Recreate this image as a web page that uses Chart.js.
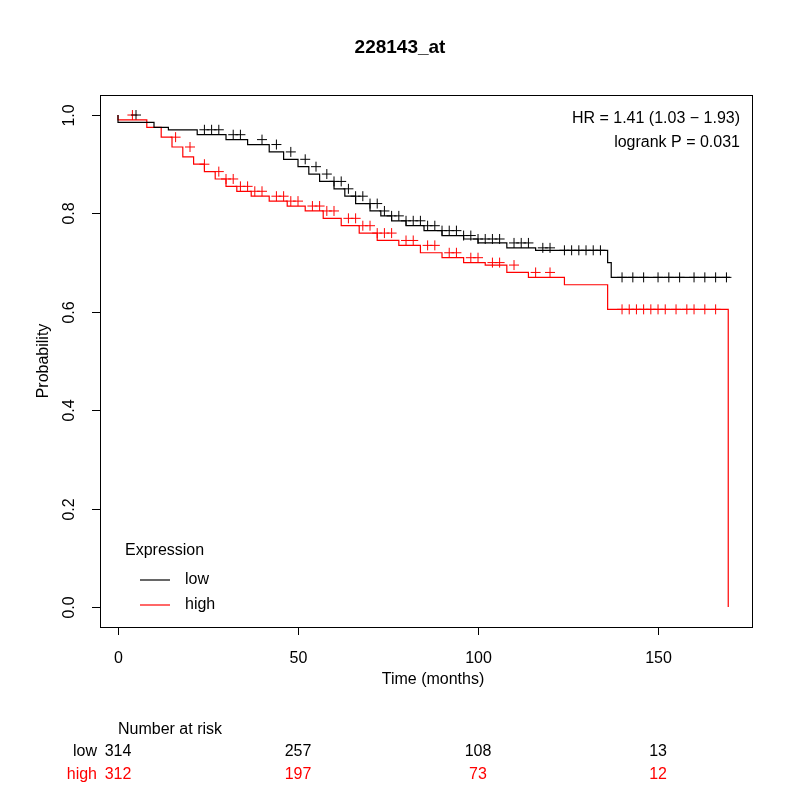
<!DOCTYPE html>
<html><head><meta charset="utf-8">
<script src="https://cdn.jsdelivr.net/npm/chart.js@4"></script>
<style>body{margin:0;background:#fff}</style></head>
<body><canvas id="c" width="800" height="800"></canvas>
<script>
const chartTitle = "228143_at";
const lowTimes = [0,10,14,22,30,36,42,46,50,53,56,60,63,66,70,73,76,80,85,90,96,100,108,116,122,136,137,138,170];
const lowSurv  = [1.0,0.985,0.975,0.97,0.96,0.95,0.94,0.925,0.91,0.895,0.88,0.865,0.85,0.835,0.82,0.805,0.795,0.785,0.775,0.765,0.755,0.748,0.74,0.73,0.725,0.725,0.70,0.67,0.67];
const highTimes = [0,8,12,15,18,21,24,27,30,33,37,42,47,52,57,62,67,72,78,84,90,96,102,108,114,124,136,137,169.5,169.5];
const highSurv  = [1.0,0.99,0.975,0.955,0.935,0.915,0.90,0.885,0.87,0.855,0.845,0.835,0.825,0.815,0.805,0.79,0.775,0.76,0.745,0.735,0.72,0.71,0.70,0.695,0.68,0.67,0.655,0.605,0.605,0.0];
const lowCensor = [5,24,26,28,32,34,40,44,48,52,55,58,60,62,64,66,68,70,72,74,76,78,80,82,84,86,88,90,92,94,96,98,100,102,104,106,110,112,114,118,120,124,126,128,130,132,134,140,143,146,150,153,156,160,163,166,169];
const highCensor = [4,16,20,24,28,30,32,34,36,38,40,44,46,48,50,54,56,58,60,64,66,68,70,72,74,76,80,82,86,88,92,94,98,100,104,106,110,116,120,140,142,144,146,148,150,152,155,158,160,163,166];
const riskTimes = [0,50,100,150];
const riskLow = [314,257,108,13];
const riskHigh = [312,197,73,12];
const xTicks = [0,50,100,150];
const yTicks = [0.0,0.2,0.4,0.6,0.8,1.0];
const hrText = ["HR = 1.41 (1.03 \u2212 1.93)","logrank P = 0.031"];

function stepAt(ts, ss, t){let v=ss[0];for(let i=0;i<ts.length;i++){if(ts[i]<=t)v=ss[i];else break;}return v;}
const pts=(ts,ss)=>ts.map((t,i)=>({x:t,y:ss[i]}));
const cens=(c,ts,ss)=>c.map(t=>({x:t,y:stepAt(ts,ss,t)}));
const F='"Liberation Sans", Arial, sans-serif';

const deco={id:'deco',afterDraw(ch){
 const c=ch.ctx,x=ch.scales.x,y=ch.scales.y,a=ch.chartArea;
 c.save();c.strokeStyle='#000';c.lineWidth=1;
 c.strokeRect(a.left+0.5,a.top+0.5,a.right-a.left,a.bottom-a.top);
 c.fillStyle='#000';c.font='16px '+F;
 c.textAlign='center';c.textBaseline='top';
 xTicks.forEach(v=>{const p=Math.round(x.getPixelForValue(v))+0.5;c.beginPath();c.moveTo(p,a.bottom);c.lineTo(p,a.bottom+8);c.stroke();c.fillText(String(v),p,a.bottom+24);});
 yTicks.forEach(v=>{const p=Math.round(y.getPixelForValue(v))+0.5;c.beginPath();c.moveTo(a.left,p);c.lineTo(a.left-8,p);c.stroke();
  c.save();c.translate(a.left-22,p);c.rotate(-Math.PI/2);c.textBaseline='bottom';c.fillText(v.toFixed(1),0,0);c.restore();});
 c.save();c.translate(44,y.getPixelForValue(0.5));c.rotate(-Math.PI/2);c.textBaseline='middle';c.fillText('Probability',0,0);c.restore();
 c.textBaseline='middle';c.fillText('Time (months)',433,680);
 c.font='bold 19px '+F;c.fillText(chartTitle,400,48);
 c.font='16px '+F;c.textAlign='right';
 c.fillText(hrText[0],740,119);c.fillText(hrText[1],740,143);
 c.textAlign='left';c.fillText('Expression',125,551);
 c.fillText('low',185,580);c.fillText('high',185,605);
 c.lineWidth=1.2;c.strokeStyle='#000';c.beginPath();c.moveTo(140,580);c.lineTo(170,580);c.stroke();
 c.strokeStyle='#ff0000';c.beginPath();c.moveTo(140,605);c.lineTo(170,605);c.stroke();
 c.fillStyle='#000';c.fillText('Number at risk',118,730);
 c.textAlign='right';c.fillText('low',97,752);c.fillStyle='#ff0000';c.fillText('high',97,775);
 c.textAlign='center';
 riskTimes.forEach((t,i)=>{const p=x.getPixelForValue(t);c.fillStyle='#000';c.fillText(String(riskLow[i]),p,752);c.fillStyle='#ff0000';c.fillText(String(riskHigh[i]),p,775);});
 c.restore();}};

new Chart(document.getElementById('c'),{
 type:'line',
 data:{datasets:[
  {data:pts(lowTimes,lowSurv),borderColor:'#000',borderWidth:1.2,stepped:'after',pointRadius:0,fill:false},
  {data:pts(highTimes,highSurv),borderColor:'#ff0000',borderWidth:1.2,stepped:'after',pointRadius:0,fill:false},
  {type:'scatter',data:cens(lowCensor,lowTimes,lowSurv),pointStyle:'cross',pointRadius:5,borderColor:'#000',borderWidth:1,showLine:false},
  {type:'scatter',data:cens(highCensor,highTimes,highSurv),pointStyle:'cross',pointRadius:5,borderColor:'#ff0000',borderWidth:1,showLine:false}
 ]},
 options:{responsive:false,animation:false,
  layout:{padding:{left:100,right:48,top:95,bottom:173}},
  plugins:{legend:{display:false},tooltip:{enabled:false},title:{display:false}},
  scales:{x:{type:'linear',min:-5,max:176.1,display:false},y:{type:'linear',min:-0.0407,max:1.0407,display:false}}},
 plugins:[deco]});
</script></body></html>
